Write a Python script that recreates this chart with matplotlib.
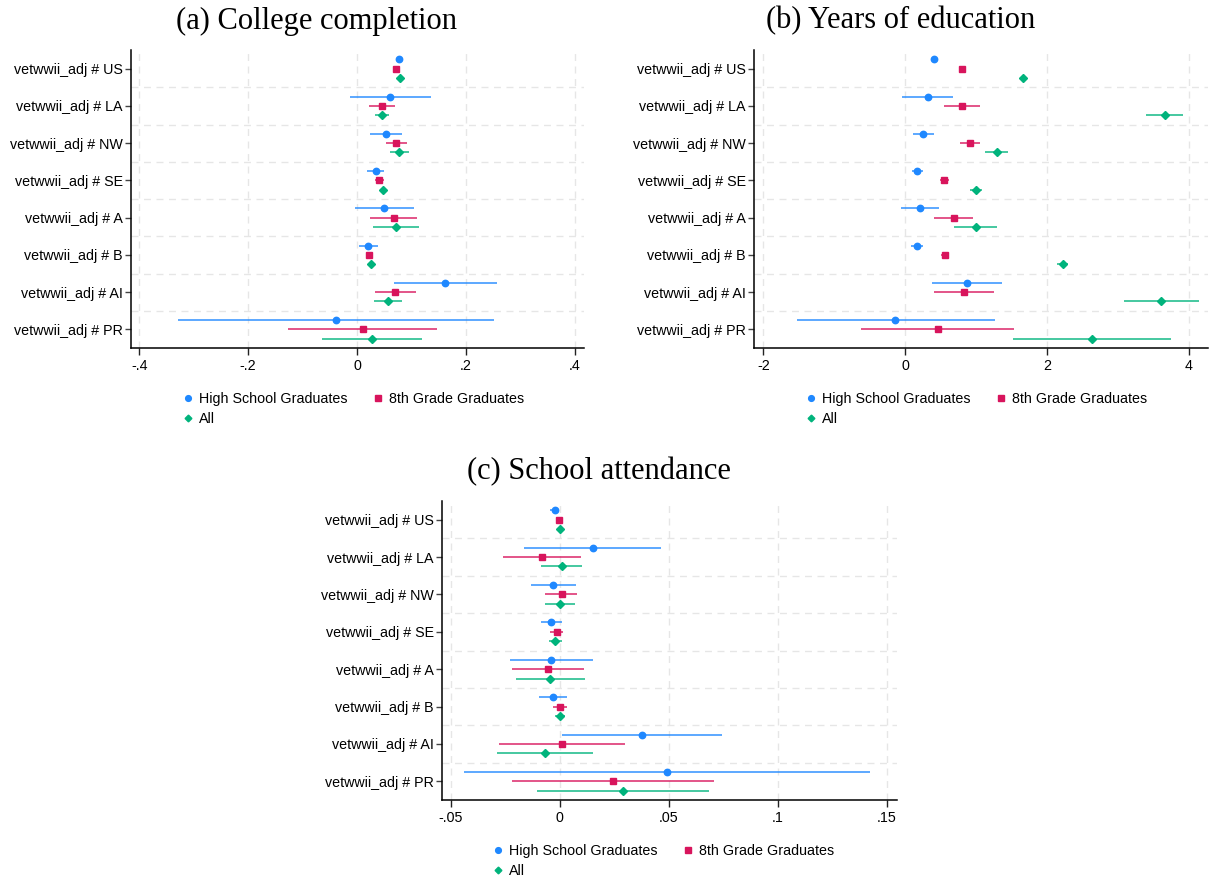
import numpy as np
import matplotlib
matplotlib.use("Agg")
import matplotlib.pyplot as plt
from matplotlib.lines import Line2D

# ---------------- data ----------------
categories = ["vetwwii_adj # US", "vetwwii_adj # LA", "vetwwii_adj # NW", "vetwwii_adj # SE",
              "vetwwii_adj # A", "vetwwii_adj # B", "vetwwii_adj # AI", "vetwwii_adj # PR"]
series_names = ["High School Graduates", "8th Grade Graduates", "All"]

# (a) College completion
a_hs = [0.077, 0.061, 0.053, 0.034, 0.050, 0.020, 0.162, -0.038]
a_hs_lo = [0.075, -0.013, 0.024, 0.019, -0.004, 0.004, 0.067, -0.328]
a_hs_hi = [0.079, 0.135, 0.083, 0.049, 0.105, 0.038, 0.256, 0.252]
a_g8 = [0.071, 0.045, 0.072, 0.041, 0.067, 0.021, 0.070, 0.010]
a_g8_lo = [0.069, 0.021, 0.053, 0.032, 0.024, 0.016, 0.033, -0.127]
a_g8_hi = [0.073, 0.070, 0.091, 0.050, 0.110, 0.028, 0.108, 0.146]
a_all = [0.078, 0.046, 0.077, 0.048, 0.071, 0.026, 0.056, 0.028]
a_all_lo = [0.076, 0.032, 0.060, 0.042, 0.030, 0.021, 0.031, -0.064]
a_all_hi = [0.080, 0.059, 0.096, 0.054, 0.113, 0.031, 0.082, 0.119]

# (b) Years of education
b_hs = [0.40, 0.32, 0.25, 0.17, 0.21, 0.17, 0.87, -0.14]
b_hs_lo = [0.38, -0.05, 0.11, 0.10, -0.06, 0.08, 0.38, -1.53]
b_hs_hi = [0.42, 0.68, 0.40, 0.25, 0.48, 0.25, 1.36, 1.26]
b_g8 = [0.80, 0.80, 0.91, 0.55, 0.69, 0.56, 0.83, 0.46]
b_g8_lo = [0.78, 0.54, 0.77, 0.49, 0.40, 0.50, 0.40, -0.63]
b_g8_hi = [0.82, 1.06, 1.06, 0.62, 0.95, 0.62, 1.25, 1.54]
b_all = [1.66, 3.66, 1.29, 1.00, 1.00, 2.22, 3.61, 2.63]
b_all_lo = [1.63, 3.39, 1.13, 0.92, 0.69, 2.14, 3.08, 1.52]
b_all_hi = [1.69, 3.92, 1.45, 1.08, 1.30, 2.30, 4.14, 3.74]

# (c) School attendance
c_hs = [-0.0024, 0.0151, -0.0029, -0.0040, -0.0040, -0.0032, 0.0376, 0.0491]
c_hs_lo = [-0.0043, -0.0164, -0.0131, -0.0087, -0.0226, -0.0095, 0.0011, -0.0440]
c_hs_hi = [-0.0008, 0.0466, 0.0075, 0.0011, 0.0150, 0.0032, 0.0742, 0.1424]
c_g8 = [-0.0005, -0.0083, 0.0008, -0.0015, -0.0052, 0.0003, 0.0009, 0.0243]
c_g8_lo = [-0.0009, -0.0260, -0.0067, -0.0046, -0.0219, -0.0031, -0.0278, -0.0217]
c_g8_hi = [-0.0001, 0.0098, 0.0080, 0.0017, 0.0113, 0.0034, 0.0301, 0.0708]
c_all = [0.0000, 0.0009, 0.0002, -0.0020, -0.0044, 0.0002, -0.0069, 0.0289]
c_all_lo = [-0.0004, -0.0086, -0.0069, -0.0049, -0.0203, -0.0020, -0.0289, -0.0106]
c_all_hi = [0.0004, 0.0104, 0.0072, 0.0012, 0.0115, 0.0026, 0.0153, 0.0683]

a_ticks = [-0.4, -0.2, 0, 0.2, 0.4]
a_ticklabels = ["-.4", "-.2", "0", ".2", ".4"]
b_ticks = [-2, 0, 2, 4]
b_ticklabels = ["-2", "0", "2", "4"]
c_ticks = [-0.05, 0, 0.05, 0.1, 0.15]
c_ticklabels = ["-.05", "0", ".05", ".1", ".15"]

# ---------------- style ----------------
colors = ["#1f88ff", "#d8145c", "#00b37c"]
markers = ["o", "s", "D"]
msizes = [4.6, 4.4, 3.8]
offsets = [-0.25, 0.0, 0.25]
FS = 10.3

plt.rcParams["font.family"] = ["Liberation Sans", "DejaVu Sans"]
W, H = 1211, 881
fig = plt.figure(figsize=(W / 100, H / 100), dpi=100)


def add_ax(left, top, right, bottom):
    return fig.add_axes([left / W, 1 - bottom / H, (right - left) / W, (bottom - top) / H])


def panel(ax, series, xlim, ticks, ticklabels):
    y = np.arange(len(categories))
    for k, (est, lo, hi) in enumerate(series):
        yy = y + offsets[k]
        ax.hlines(yy, lo, hi, color=colors[k], lw=1.2, alpha=0.85, zorder=3)
        ax.plot(est, yy, linestyle="none", marker=markers[k], ms=msizes[k],
                color=colors[k], mec=colors[k], zorder=4)
    ax.set_xlim(*xlim)
    ax.set_ylim(len(categories) - 0.5, -0.5)
    ax.set_yticks(y)
    ax.set_yticklabels(categories, fontsize=FS)
    ax.set_yticks(np.arange(0.5, len(categories) - 1, 1), minor=True)
    ax.set_xticks(ticks)
    ax.set_xticklabels(ticklabels, fontsize=FS)
    ax.tick_params(axis="y", which="major", length=4, width=1, color="#444444", pad=2)
    ax.tick_params(axis="y", which="minor", length=0)
    ax.tick_params(axis="x", which="major", length=5, width=1, color="#222222", pad=3)
    ax.grid(True, axis="x", which="major", color="#e6e6e6", ls=(0, (5, 4)), lw=1.0, zorder=0)
    ax.grid(True, axis="y", which="minor", color="#e6e6e6", ls=(0, (5, 4)), lw=1.0, zorder=0)
    for s in ["top", "right"]:
        ax.spines[s].set_visible(False)
    for s in ["left", "bottom"]:
        ax.spines[s].set_linewidth(1.1)
        ax.spines[s].set_color("black")
    ax.set_axisbelow(True)


def legend_at(cx, top):
    handles = []
    for k in range(3):
        handles.append(Line2D([], [], linestyle="none", marker=markers[k], ms=msizes[k] * 0.9,
                              color=colors[k], label=series_names[k]))
    order = [0, 2, 1]
    fig.legend([handles[i] for i in order], [series_names[i] for i in order],
               loc="upper center", bbox_to_anchor=(cx / W, 1 - top / H), ncol=2,
               frameon=False, fontsize=FS, handlelength=0.8, handletextpad=0.4,
               columnspacing=1.7, labelspacing=0.42, borderpad=0.3)


ax_a = add_ax(131, 50, 584, 348)
panel(ax_a, [(a_hs, a_hs_lo, a_hs_hi), (a_g8, a_g8_lo, a_g8_hi), (a_all, a_all_lo, a_all_hi)],
      (-0.415, 0.4165), a_ticks, a_ticklabels)
ax_b = add_ax(754, 50, 1208, 348)
panel(ax_b, [(b_hs, b_hs_lo, b_hs_hi), (b_g8, b_g8_lo, b_g8_hi), (b_all, b_all_lo, b_all_hi)],
      (-2.131, 4.267), b_ticks, b_ticklabels)
ax_c = add_ax(442, 501, 897, 800)
panel(ax_c, [(c_hs, c_hs_lo, c_hs_hi), (c_g8, c_g8_lo, c_g8_hi), (c_all, c_all_lo, c_all_hi)],
      (-0.054, 0.1546), c_ticks, c_ticklabels)

legend_at(353, 381)
legend_at(976, 381)
legend_at(663, 833)

tfont = dict(family=["Liberation Serif", "DejaVu Serif"], fontsize=22, ha="center", va="center")
fig.text(317 / W, 1 - 21 / H, "(a) College completion", **tfont)
fig.text(901 / W, 1 - 21 / H, "(b) Years of education", **tfont)
fig.text(599 / W, 1 - 472 / H, "(c) School attendance", **tfont)

fig.savefig("out.png", dpi=100)
